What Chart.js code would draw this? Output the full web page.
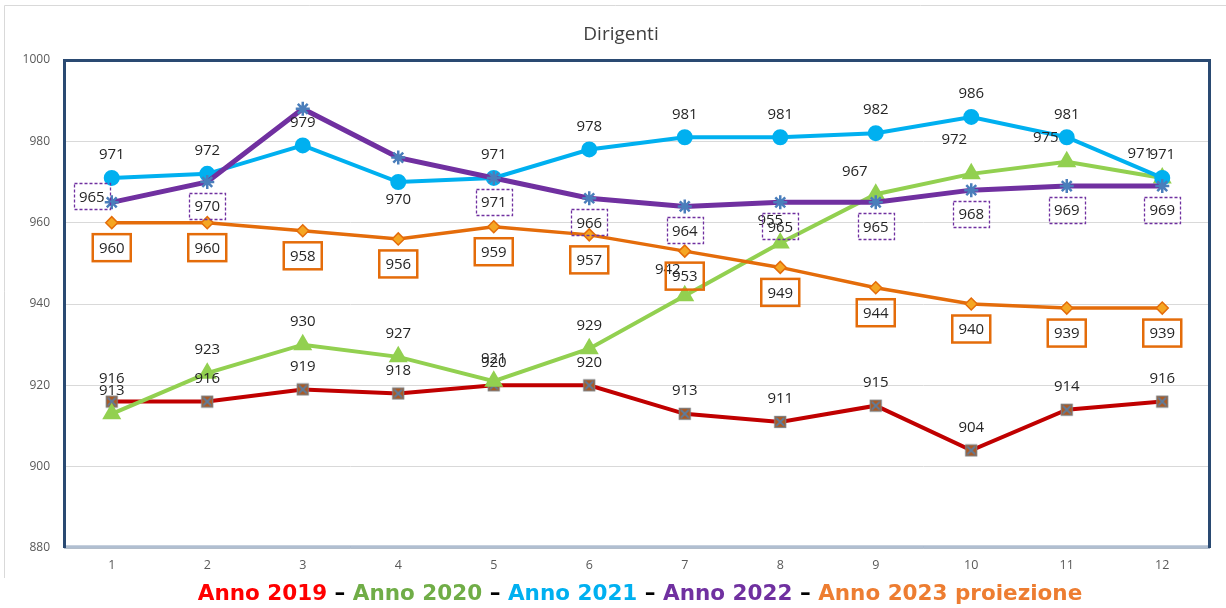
<!DOCTYPE html>
<html>
<head>
<meta charset="utf-8">
<script src="https://cdn.jsdelivr.net/npm/chart.js@4"></script>
<style>
  html, body { margin: 0; padding: 0; background: #fff; }
  #wrap { position: relative; width: 1226px; height: 608px; }
  #legendLine {
    position: absolute; left: 0; top: 578px; width: 1226px; height: 30px;
    text-align: center; font-family: "DejaVu Sans", Verdana, sans-serif;
    font-weight: bold; font-size: 21.5px; line-height: 30px; white-space: nowrap;
    padding-left: 54px; box-sizing: border-box;
  }
</style>
</head>
<body>
<div id="wrap">
  <canvas id="c" width="1226" height="608"></canvas>
  <div id="legendLine"></div>
</div>
<script>
// ---- Data ----
const categories = ['1','2','3','4','5','6','7','8','9','10','11','12'];
const anno2019 = [916, 916, 919, 918, 920, 920, 913, 911, 915, 904, 914, 916];
const anno2020 = [913, 923, 930, 927, 921, 929, 942, 955, 967, 972, 975, 971];
const anno2021 = [971, 972, 979, 970, 971, 978, 981, 981, 982, 986, 981, 971];
const anno2022 = [965, 970, 988, 976, 971, 966, 964, 965, 965, 968, 969, 969];
const anno2023 = [960, 960, 958, 956, 959, 957, 953, 949, 944, 940, 939, 939];
const seriesNames = ['Anno 2019', 'Anno 2020', 'Anno 2021', 'Anno 2022', 'Anno 2023 proiezione'];
const chartTitle = 'Dirigenti';
const yMin = 880, yMax = 1000, yStep = 20;

// ---- Styles ----
const legendColors = ['#FF0000', '#70AD47', '#00B0F0', '#7030A0', '#ED7D31'];

function makeRedMarker() {
  const c = document.createElement('canvas');
  c.width = 14; c.height = 14;
  const g = c.getContext('2d');
  g.fillStyle = '#B0591F';
  g.fillRect(1, 1, 12, 12);
  g.strokeStyle = '#7F7F7F';
  g.lineWidth = 1.2;
  g.strokeRect(1.5, 1.5, 11, 11);
  g.strokeStyle = '#5B7DA0';
  g.lineWidth = 1.8;
  g.beginPath();
  g.moveTo(3, 3); g.lineTo(11, 11);
  g.moveTo(11, 3); g.lineTo(3, 11);
  g.stroke();
  return c;
}

// legend line (HTML text)
(function () {
  const el = document.getElementById('legendLine');
  seriesNames.forEach((n, i) => {
    if (i > 0) {
      const d = document.createElement('span');
      d.textContent = ' \u2013 ';
      d.style.color = '#000';
      el.appendChild(d);
    }
    const s = document.createElement('span');
    s.textContent = n;
    s.style.color = legendColors[i];
    el.appendChild(s);
  });
})();

const labelFont = '15px "Open Sans", sans-serif';

const framePlugin = {
  id: 'frame',
  beforeDatasetsDraw(chart) {
    const { ctx, chartArea: a } = chart;
    ctx.save();
    // outer light border (left + top)
    ctx.strokeStyle = '#D9D9D9';
    ctx.lineWidth = 1;
    ctx.beginPath();
    ctx.moveTo(4.5, 578); ctx.lineTo(4.5, 5.5); ctx.lineTo(1226, 5.5);
    ctx.stroke();
    // plot frame
    ctx.strokeStyle = '#8EA2BC';
    ctx.lineWidth = 3;
    ctx.beginPath();
    ctx.moveTo(a.left, a.bottom - 1); ctx.lineTo(a.right, a.bottom - 1);
    ctx.stroke();
    ctx.strokeStyle = '#D2DBE6';
    ctx.lineWidth = 1;
    ctx.beginPath();
    ctx.moveTo(a.left, a.bottom - 1); ctx.lineTo(a.right, a.bottom - 1);
    ctx.stroke();
    ctx.strokeStyle = '#2A4A72';
    ctx.lineWidth = 3;
    ctx.beginPath();
    ctx.moveTo(a.left + 0.5, a.bottom);
    ctx.lineTo(a.left + 0.5, a.top + 0.5);
    ctx.lineTo(a.right - 0.5, a.top + 0.5);
    ctx.lineTo(a.right - 0.5, a.bottom);
    ctx.stroke();
    // title
    ctx.fillStyle = '#404040';
    ctx.font = '19px "Open Sans", sans-serif';
    ctx.textAlign = 'center';
    ctx.textBaseline = 'middle';
    ctx.fillText(chartTitle, 621, 35);
    ctx.restore();
  }
};

const labelPlugin = {
  id: 'pointLabels',
  afterDatasetsDraw(chart) {
    const { ctx } = chart;
    ctx.save();
    ctx.font = labelFont;
    ctx.textAlign = 'center';
    ctx.textBaseline = 'middle';
    chart.data.datasets.forEach((ds, di) => {
      const cfg = ds.labelCfg;
      const meta = chart.getDatasetMeta(di);
      meta.data.forEach((pt, i) => {
        if (cfg.hidden && cfg.hidden.includes(i)) return;
        let dx = cfg.dx || 0, dy = cfg.dy;
        if (cfg.overrides && cfg.overrides[i]) { dx = cfg.overrides[i][0]; dy = cfg.overrides[i][1]; }
        const x = pt.x + dx, y = pt.y + dy;
        const txt = String(ds.data[i]);
        if (cfg.box === 'dashed') {
          ctx.strokeStyle = '#7030A0';
          ctx.lineWidth = 1.3;
          ctx.setLineDash([3, 2]);
          ctx.strokeRect(Math.round(x - 18) + 0.5, Math.round(y - 13) + 0.5, 36, 26);
          ctx.setLineDash([]);
        } else if (cfg.box === 'solid') {
          ctx.strokeStyle = '#E46C0A';
          ctx.lineWidth = 2.5;
          ctx.strokeRect(x - 19, y - 13.5, 38, 27);
        }
        ctx.fillStyle = '#262626';
        ctx.fillText(txt, x, y + 1);
      });
    });
    ctx.restore();
  }
};

new Chart(document.getElementById('c'), {
  type: 'line',
  data: {
    labels: categories,
    datasets: [
      {
        label: seriesNames[0], data: anno2019, order: 4,
        borderColor: '#C00000', borderWidth: 4,
        pointStyle: makeRedMarker(), pointRadius: 7,
        labelCfg: { dy: -24 }
      },
      {
        label: seriesNames[1], data: anno2020, order: 3,
        borderColor: '#92D050', borderWidth: 4,
        pointStyle: 'triangle', pointRadius: 7,
        pointBackgroundColor: '#92D050', pointBorderColor: '#92D050',
        labelCfg: { dy: -24, overrides: { 6: [-17, -27], 7: [-10, -23], 8: [-21, -23], 9: [-17, -35], 10: [-21, -25], 11: [-22, -25] } }
      },
      {
        label: seriesNames[2], data: anno2021, order: 2,
        borderColor: '#00B0F0', borderWidth: 4,
        pointStyle: 'circle', pointRadius: 6,
        pointBackgroundColor: '#00B0F0', pointBorderColor: '#00B0F0',
        labelCfg: { dy: -24, overrides: { 3: [0, 17] } }
      },
      {
        label: seriesNames[3], data: anno2022, order: 1,
        borderColor: '#7030A0', borderWidth: 5,
        pointStyle: 'star', pointRadius: 7, pointBorderWidth: 2.5,
        pointBackgroundColor: '#4A7EBB', pointBorderColor: '#4A7EBB',
        labelCfg: { dy: 24, box: 'dashed', hidden: [2, 3], overrides: { 0: [-20, -6] } }
      },
      {
        label: seriesNames[4], data: anno2023, order: 0,
        borderColor: '#E46C0A', borderWidth: 3.5,
        pointStyle: 'rectRot', pointRadius: 6, pointBorderWidth: 1.5,
        pointBackgroundColor: '#F5A623', pointBorderColor: '#E46C0A',
        labelCfg: { dy: 25, box: 'solid' }
      }
    ]
  },
  options: {
    responsive: false,
    animation: false,
    events: [],
    layout: { padding: { left: 0, top: 60, right: 16, bottom: 0 } },
    elements: { line: { tension: 0 } },
    plugins: { legend: { display: false }, tooltip: { enabled: false }, title: { display: false } },
    scales: {
      x: {
        offset: true,
        grid: { display: false, drawTicks: false },
        border: { display: false },
        ticks: { color: '#595959', font: { family: 'Open Sans', size: 12.5 }, padding: 10 },
        afterFit(s) { s.height = 60; }
      },
      y: {
        min: yMin, max: yMax,
        grid: { color: '#D9D9D9', lineWidth: 1, drawTicks: false },
        border: { display: false },
        ticks: {
          stepSize: yStep, color: '#595959', font: { family: 'Open Sans', size: 12 }, padding: 14,
          callback: (v) => String(v)
        },
        afterFit(s) { s.width = 64; }
      }
    }
  },
  plugins: [framePlugin, labelPlugin]
});
</script>
</body>
</html>
